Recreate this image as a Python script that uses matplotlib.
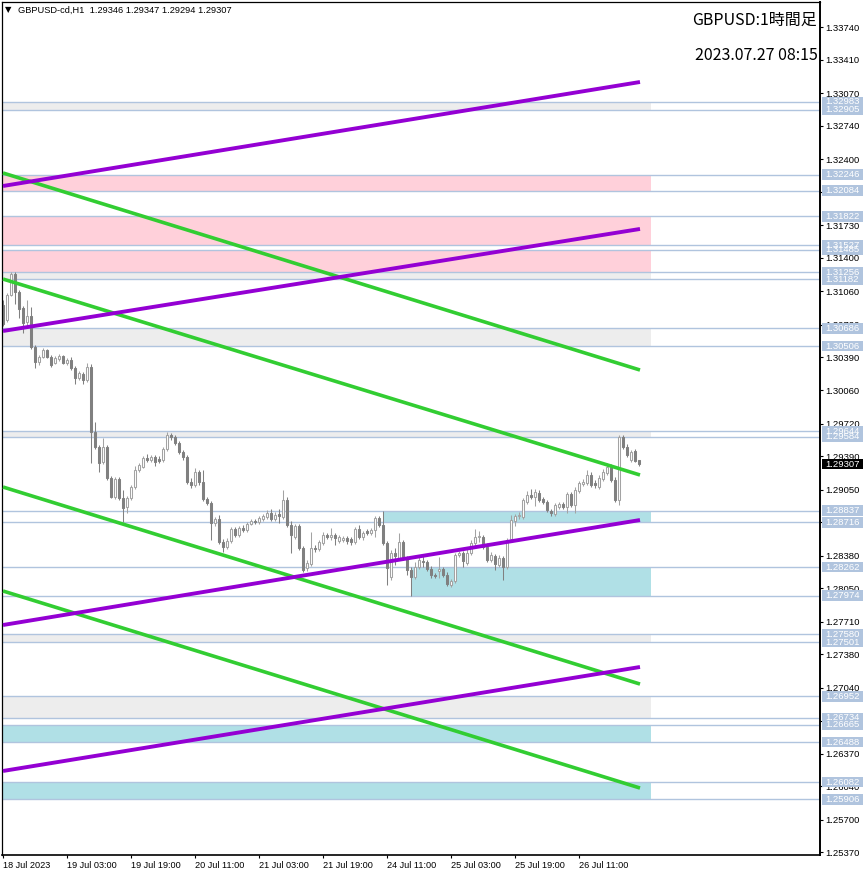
import matplotlib
matplotlib.use('Agg')
import matplotlib.pyplot as plt
import matplotlib.transforms as mtrans
from matplotlib.patches import Rectangle
import numpy as np

plt.rcParams['font.family'] = ['Liberation Sans', 'DejaVu Sans']

# ---------------- data ----------------
opens = [1.30922,1.30770,1.31024,1.31237,1.31055,1.30892,1.30750,1.30811,1.30496,1.30344,
         1.30395,1.30466,1.30395,1.30334,1.30374,1.30405,1.30334,1.30364,1.30283,1.30182,
         1.30222,1.30162,1.30293,1.29634,1.29482,1.29330,1.29482,1.29167,1.28974,1.29157,
         1.28964,1.28872,1.28964,1.29075,1.29248,1.29279,1.29370,1.29350,1.29380,1.29360,
         1.29350,1.29461,1.29603,1.29583,1.29522,1.29431,1.29380,1.29127,1.29096,1.29228,
         1.29127,1.28954,1.28913,1.28710,1.28751,1.28517,1.28466,1.28528,1.28649,1.28588,
         1.28660,1.28639,1.28700,1.28731,1.28721,1.28751,1.28771,1.28812,1.28751,1.28802,
         1.28771,1.28944,1.28690,1.28568,1.28680,1.28457,1.28254,1.28294,1.28457,1.28446,
         1.28507,1.28588,1.28568,1.28588,1.28528,1.28538,1.28558,1.28548,1.28517,1.28649,
         1.28568,1.28629,1.28609,1.28639,1.28761,1.28690,1.28507,1.28163,1.28406,1.28355,
         1.28517,1.28355,1.28234,1.28163,1.28264,1.28325,1.28315,1.28244,1.28183,1.28223,
         1.28244,1.28183,1.28081,1.28122,1.28386,1.28406,1.28305,1.28406,1.28507,1.28568,
         1.28568,1.28466,1.28335,1.28375,1.28284,1.28355,1.28264,1.28548,1.28731,1.28782,
         1.28771,1.28924,1.28995,1.28974,1.29015,1.28954,1.28924,1.28832,1.28802,1.28872,
         1.28903,1.28872,1.29005,1.28893,1.29035,1.29106,1.29116,1.29198,1.29116,1.29075,
         1.29157,1.29218,1.29279,1.29147,1.28944,1.29583,1.29482,1.29350,1.29441,1.29346]
highs = [1.30973,1.31045,1.31258,1.31258,1.31075,1.30912,1.30973,1.30902,1.30516,1.30415,
         1.30486,1.30476,1.30415,1.30405,1.30425,1.30415,1.30384,1.30395,1.30303,1.30253,
         1.30243,1.30334,1.30323,1.29736,1.29502,1.29573,1.29502,1.29188,1.29177,1.29177,
         1.29045,1.28984,1.29096,1.29289,1.29320,1.29390,1.29411,1.29400,1.29400,1.29390,
         1.29482,1.29634,1.29624,1.29603,1.29543,1.29451,1.29400,1.29167,1.29269,1.29248,
         1.29248,1.28974,1.28934,1.28771,1.28792,1.28548,1.28558,1.28670,1.28670,1.28680,
         1.28690,1.28721,1.28751,1.28751,1.28782,1.28802,1.28842,1.28852,1.28822,1.28852,
         1.29045,1.28974,1.28731,1.28700,1.28700,1.28477,1.28335,1.28619,1.28487,1.28538,
         1.28619,1.28609,1.28660,1.28609,1.28588,1.28578,1.28578,1.28568,1.28670,1.28690,
         1.28629,1.28649,1.28660,1.28782,1.28782,1.28837,1.28528,1.28437,1.28457,1.28609,
         1.28538,1.28375,1.28264,1.28315,1.28365,1.28385,1.28335,1.28274,1.28203,1.28365,
         1.28264,1.28213,1.28142,1.28406,1.28426,1.28426,1.28446,1.28538,1.28649,1.28629,
         1.28588,1.28507,1.28416,1.28396,1.28386,1.28375,1.28558,1.28792,1.28802,1.28822,
         1.28964,1.29035,1.29055,1.29055,1.29045,1.28974,1.28944,1.28852,1.28913,1.28924,
         1.28924,1.29025,1.29025,1.29075,1.29137,1.29157,1.29248,1.29228,1.29147,1.29198,
         1.29259,1.29320,1.29310,1.29177,1.29603,1.29603,1.29512,1.29451,1.29461,1.29347]
lows = [1.30709,1.30750,1.31014,1.30932,1.30791,1.30639,1.30699,1.30476,1.30283,1.30313,
        1.30384,1.30384,1.30293,1.30323,1.30354,1.30323,1.30313,1.30263,1.30121,1.30162,
        1.30121,1.30142,1.29320,1.29461,1.29228,1.29310,1.29147,1.28964,1.28954,1.28944,
        1.28721,1.28812,1.28944,1.29055,1.29228,1.29269,1.29330,1.29330,1.29289,1.29320,
        1.29330,1.29441,1.29553,1.29502,1.29411,1.29350,1.29106,1.29066,1.29075,1.29096,
        1.28934,1.28893,1.28538,1.28680,1.28497,1.28416,1.28446,1.28507,1.28568,1.28568,
        1.28619,1.28619,1.28690,1.28700,1.28700,1.28731,1.28751,1.28731,1.28731,1.28710,
        1.28751,1.28670,1.28406,1.28548,1.28437,1.28213,1.28223,1.28274,1.28416,1.28426,
        1.28487,1.28548,1.28538,1.28487,1.28507,1.28517,1.28497,1.28487,1.28497,1.28548,
        1.28538,1.28588,1.28588,1.28568,1.28670,1.28487,1.28081,1.28132,1.28284,1.28335,
        1.28335,1.28183,1.27974,1.28142,1.28244,1.28264,1.28223,1.28152,1.28152,1.28152,
        1.28163,1.28071,1.28061,1.28102,1.28365,1.28264,1.28284,1.28386,1.28477,1.28517,
        1.28446,1.28315,1.28315,1.28234,1.28264,1.28132,1.28244,1.28528,1.28680,1.28751,
        1.28751,1.28903,1.28954,1.28883,1.28924,1.28903,1.28822,1.28782,1.28782,1.28852,
        1.28852,1.28812,1.28872,1.28812,1.29015,1.29086,1.29096,1.29075,1.29066,1.29055,
        1.29137,1.29198,1.29127,1.28924,1.28893,1.29461,1.29380,1.29330,1.29330,1.29294]
closes = [1.30729,1.31024,1.31237,1.31055,1.30882,1.30740,1.30811,1.30496,1.30344,1.30395,
          1.30466,1.30395,1.30313,1.30384,1.30405,1.30334,1.30364,1.30283,1.30182,1.30233,
          1.30162,1.30293,1.29634,1.29482,1.29320,1.29482,1.29167,1.28974,1.29157,1.28964,
          1.28862,1.28964,1.29075,1.29248,1.29299,1.29370,1.29350,1.29380,1.29330,1.29340,
          1.29461,1.29603,1.29583,1.29522,1.29431,1.29380,1.29127,1.29096,1.29228,1.29127,
          1.28954,1.28913,1.28710,1.28751,1.28517,1.28466,1.28528,1.28649,1.28588,1.28660,
          1.28639,1.28700,1.28731,1.28721,1.28761,1.28782,1.28812,1.28751,1.28792,1.28782,
          1.28944,1.28690,1.28588,1.28680,1.28457,1.28234,1.28305,1.28457,1.28446,1.28517,
          1.28588,1.28568,1.28588,1.28558,1.28568,1.28558,1.28528,1.28517,1.28649,1.28568,
          1.28609,1.28609,1.28639,1.28761,1.28690,1.28507,1.28254,1.28406,1.28375,1.28517,
          1.28355,1.28234,1.28163,1.28264,1.28335,1.28315,1.28244,1.28183,1.28173,1.28244,
          1.28183,1.28092,1.28122,1.28386,1.28406,1.28325,1.28406,1.28507,1.28568,1.28578,
          1.28466,1.28335,1.28386,1.28294,1.28355,1.28264,1.28538,1.28741,1.28782,1.28792,
          1.28944,1.28995,1.28974,1.29025,1.28944,1.28924,1.28842,1.28812,1.28893,1.28903,
          1.28872,1.29005,1.28893,1.29045,1.29116,1.29127,1.29198,1.29096,1.29096,1.29167,
          1.29228,1.29279,1.29147,1.28944,1.29583,1.29482,1.29400,1.29431,1.29340,1.29307]

# x-axis labels (every 16 hourly bars)
xtick_bars = [0, 16, 32, 48, 64, 80, 96, 112, 128, 144]
xtick_labels = ['18 Jul 2023', '19 Jul 03:00', '19 Jul 19:00', '20 Jul 11:00', '21 Jul 03:00',
                '21 Jul 19:00', '24 Jul 11:00', '25 Jul 03:00', '25 Jul 19:00', '26 Jul 11:00']

ytick_values = [1.33740, 1.33410, 1.33070, 1.32740, 1.32400, 1.32070, 1.31730, 1.31400, 1.31060,
                1.30720, 1.30390, 1.30060, 1.29720, 1.29390, 1.29050, 1.28720, 1.28380, 1.28050,
                1.27710, 1.27380, 1.27040, 1.26700, 1.26370, 1.26040, 1.25700, 1.25370]

# horizontal levels (drawing order of their price labels)
levels = [1.32905, 1.32983, 1.32246, 1.32084, 1.31822, 1.31485, 1.31527, 1.31182, 1.31256,
          1.30686, 1.30506, 1.29584, 1.29644, 1.28837, 1.28716, 1.28262, 1.27974, 1.27580,
          1.27501, 1.26952, 1.26665, 1.26734, 1.26488, 1.26082, 1.25906]

# zones: (top, bottom, start bar, end bar, kind)
zone_top = [1.32983, 1.32246, 1.31822, 1.31485, 1.31256, 1.30686, 1.29644, 1.28837, 1.28262,
            1.27580, 1.26952, 1.26665, 1.26082]
zone_bottom = [1.32905, 1.32084, 1.31527, 1.31256, 1.31182, 1.30506, 1.29584, 1.28716, 1.27974,
               1.27501, 1.26734, 1.26488, 1.25906]
zone_start = [-5, -5, -5, -5, -5, -5, -5, 95, 102, -5, -5, -5, -5]
zone_end = [162] * 13
zone_kind = ['gray', 'pink', 'pink', 'pink', 'gray', 'gray', 'gray', 'cyan', 'cyan',
             'gray', 'gray', 'cyan', 'cyan']

# trend lines: start bar, start price, end bar, end price
purple_x0 = [0, 0, 0, 0]
purple_p0 = [1.32130, 1.30659, 1.27676, 1.26195]
purple_x1 = [159.25, 159.25, 159.25, 159.25]
purple_p1 = [1.33185, 1.31694, 1.28741, 1.27250]
green_x0 = [0, 0, 0, 0]
green_p0 = [1.32262, 1.31186, 1.29076, 1.28021]
green_x1 = [159.25, 159.25, 159.25, 159.25]
green_p1 = [1.30263, 1.29198, 1.27077, 1.26022]

symbol_header = 'GBPUSD-cd,H1  1.29346 1.29347 1.29294 1.29307'
title1 = 'GBPUSD:1時間足'
title2 = '2023.07.27 08:15'
last_price = 1.29307

# ---------------- styling ----------------
zone_colors = {'gray': '#EDEDED', 'pink': '#FFD0DA', 'cyan': '#B0E0E6'}
level_color = '#B0C4DE'
bull_edge = '#A3A3A3'
bear_col = '#808080'
purple = '#9400D3'
green = '#32CD32'

W, H = 866, 876
fig = plt.figure(figsize=(W / 100, H / 100), dpi=100)
ax_l, ax_r, ax_t, ax_b = 2, 820, 2, 855
ax = fig.add_axes([ax_l / W, 1 - ax_b / H, (ax_r - ax_l) / W, (ax_b - ax_t) / H])
ax.set_facecolor('white')

o = np.array(opens); h = np.array(highs); l = np.array(lows); c = np.array(closes)
idx = np.arange(len(o))

# zones
for t, b, s, e, k in zip(zone_top, zone_bottom, zone_start, zone_end, zone_kind):
    ax.fill_between([s, e], b, t, color=zone_colors[k], lw=0, zorder=1)

# level lines
for lv in levels:
    ax.axhline(lv, color=level_color, lw=1.0, zorder=1.5)

# candles
bull = c >= o
bear = ~bull
ax.vlines(idx[bull], l[bull], h[bull], colors=bull_edge, lw=0.75, zorder=2)
ax.vlines(idx[bear], l[bear], h[bear], colors=bear_col, lw=0.75, zorder=2)
ax.bar(idx[bull], (c - o)[bull], bottom=o[bull], width=0.5, facecolor='white',
       edgecolor=bull_edge, lw=0.75, zorder=2.1)
ax.bar(idx[bear], (o - c)[bear], bottom=c[bear], width=0.5, facecolor=bear_col,
       edgecolor=bear_col, lw=0.75, zorder=2.1)

# trend lines
for x0, p0, x1, p1 in zip(green_x0, green_p0, green_x1, green_p1):
    ax.plot([x0, x1], [p0, p1], color=green, lw=2.6, solid_capstyle='butt', zorder=3)
for x0, p0, x1, p1 in zip(purple_x0, purple_p0, purple_x1, purple_p1):
    ax.plot([x0, x1], [p0, p1], color=purple, lw=2.8, solid_capstyle='butt', zorder=3)

# limits
ppx = 0.000101455
ax.set_xlim(-0.25, 204.25)
ax.set_ylim(1.3401697 - ax_b * ppx, 1.3401697 - ax_t * ppx)

# axes styling
for sp in ax.spines.values():
    sp.set_color('black')
    sp.set_linewidth(0.9)
ax.spines['right'].set_linewidth(1.4)
ax.spines['bottom'].set_linewidth(1.2)

ax.yaxis.tick_right()
ax.set_yticks(ytick_values)
ax.set_yticklabels([f'{v:.5f}' for v in ytick_values])
ax.tick_params(axis='y', direction='out', length=2.5, width=0.8, pad=1.6,
               labelsize=6.8, colors='black')
ax.set_xticks(xtick_bars)
ax.set_xticklabels(xtick_labels)
ax.tick_params(axis='x', direction='out', length=2.5, width=0.8, pad=1.5,
               labelsize=6.6, colors='black')
for lab in ax.get_xticklabels():
    lab.set_ha('left')

# price labels on right axis
blend = mtrans.blended_transform_factory(ax.transAxes, ax.transData)
axw = ax_r - ax_l
bx0 = (822 - ax_l) / axw
bw = (863 - 822) / axw
half = 5.2 * ppx
for lv in levels:
    ax.add_patch(Rectangle((bx0, lv - half), bw, 2 * half, transform=blend,
                           facecolor=level_color, edgecolor='none', clip_on=False, zorder=10))
    ax.text(bx0 + bw / 2, lv, f'{lv:.5f}', transform=blend, ha='center', va='center',
            fontsize=6.8, color='white', clip_on=False, zorder=11)
ax.add_patch(Rectangle((bx0, last_price - half), bw, 2 * half, transform=blend,
                       facecolor='black', edgecolor='none', clip_on=False, zorder=12))
ax.text(bx0 + bw / 2, last_price, f'{last_price:.5f}', transform=blend, ha='center',
        va='center', fontsize=6.8, color='white', clip_on=False, zorder=13)

# header texts
ax.text((5 - ax_l) / axw, 1 - (10 - ax_t) / (ax_b - ax_t), '▼', transform=ax.transAxes,
        ha='left', va='center', fontsize=6, color='black', family=['DejaVu Sans'], zorder=15)
ax.text((18 - ax_l) / axw, 1 - (10 - ax_t) / (ax_b - ax_t), symbol_header,
        transform=ax.transAxes, ha='left', va='center', fontsize=6.7, color='black', zorder=15)
fig.text(817 / W, 1 - 20 / H, title1, ha='right', va='center', fontsize=11.5,
         family=['Noto Sans CJK JP', 'DejaVu Sans'], color='black')
fig.text(818 / W, 1 - 55 / H, title2, ha='right', va='center', fontsize=11.5,
         family=['Noto Sans CJK JP', 'DejaVu Sans'], color='black')

fig.savefig('out.png', dpi=100, facecolor='white')
